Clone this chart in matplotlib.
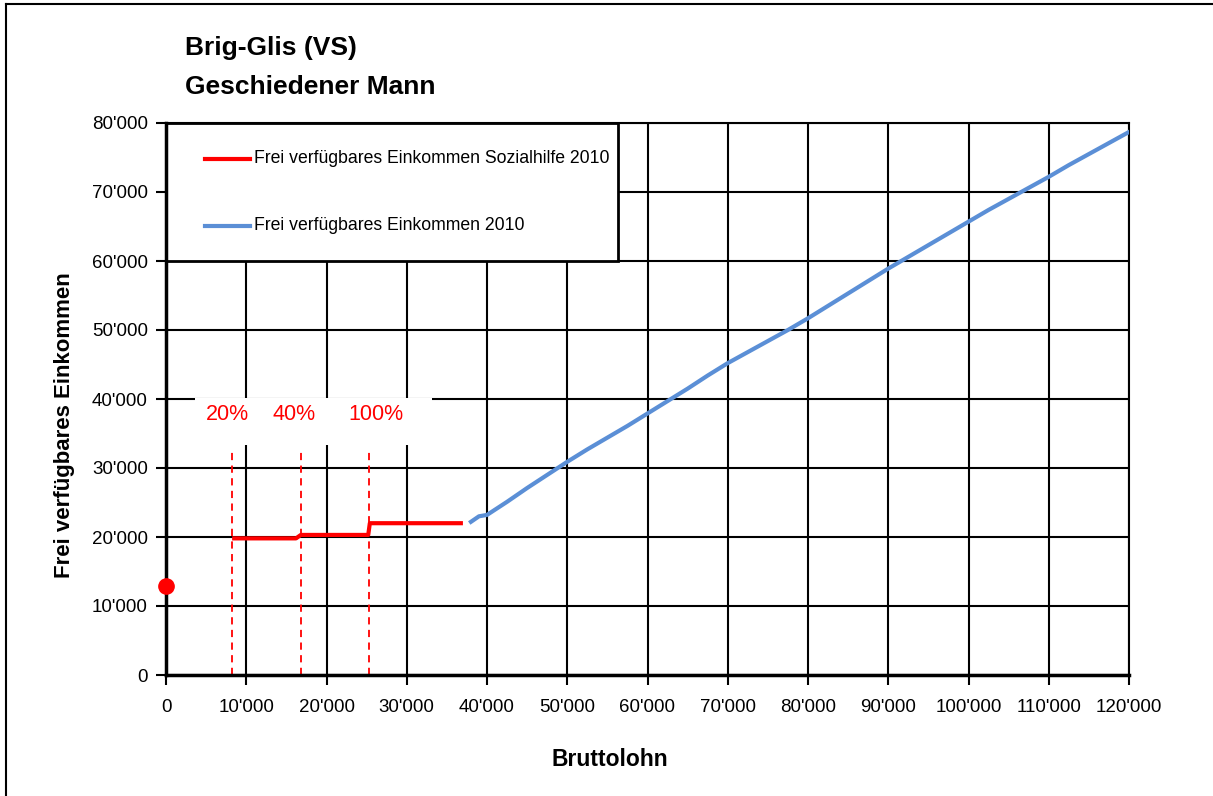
import matplotlib.pyplot as plt
from matplotlib.patches import Rectangle
from matplotlib.lines import Line2D
from matplotlib.ticker import FuncFormatter

plt.rcParams['font.family'] = ['Liberation Sans Narrow', 'Liberation Sans', 'DejaVu Sans']

# data
sozial_x = [8240, 16200, 16800, 25200, 25400, 37000]
sozial_y = [19800, 19800, 20300, 20300, 22000, 22000]

frei_x = [38000, 39000, 40000, 42500, 45000, 47500, 50000, 52500, 55000, 57500,
          60000, 62500, 65000, 67500, 70000, 72500, 75000, 77500, 80000, 82500,
          85000, 87500, 90000, 92500, 95000, 97500, 100000, 102500, 105000,
          107500, 110000, 112500, 115000, 117500, 120000]
frei_y = [22200, 23000, 23200, 25100, 27100, 29000, 30900, 32700, 34400, 36100,
          37900, 39700, 41500, 43400, 45200, 46800, 48400, 50000, 51700, 53500,
          55300, 57100, 58900, 60600, 62300, 64000, 65700, 67400, 69000,
          70600, 72200, 73900, 75500, 77100, 78700]

start_point = (0, 12900)

step_x = [8240, 16820, 25300]
step_labels = ['20%', '40%', '100%']
label_x = [7700, 16000, 26200]

x_ticks = list(range(0, 120001, 10000))
y_ticks = list(range(0, 80001, 10000))


def swiss(v, pos=None):
    v = int(round(v))
    if v == 0:
        return '0'
    return f"{v:,}".replace(',', "'")


fig = plt.figure(figsize=(12.13, 7.96), dpi=100)
ax = fig.add_axes([166 / 1213, 1 - 675 / 796, (1129 - 166) / 1213, (675 - 123) / 796])

ax.set_xlim(0, 120000)
ax.set_ylim(0, 80000)
ax.set_xticks(x_ticks)
ax.set_yticks(y_ticks)
ax.xaxis.set_major_formatter(FuncFormatter(swiss))
ax.yaxis.set_major_formatter(FuncFormatter(swiss))
ax.tick_params(axis='both', direction='out', length=7, width=1.5, labelsize=13.5, color='black')
ax.tick_params(axis='x', pad=10)
ax.tick_params(axis='y', pad=6)
ax.grid(True, color='black', linewidth=1.5)
ax.set_axisbelow(True)
for side in ['top', 'right']:
    ax.spines[side].set_linewidth(1.5)
for side in ['left', 'bottom']:
    ax.spines[side].set_linewidth(2.5)

# white box behind the percentage labels
ax.add_patch(Rectangle((3600, 33300), 29600, 6800, facecolor='white', edgecolor='none', zorder=1.5))

for xv in step_x:
    ax.plot([xv, xv], [0, 32900], color='red', linestyle=(0, (4, 3)), linewidth=1.3, zorder=2)
for xv, lab in zip(label_x, step_labels):
    ax.text(xv, 37700, lab, color='red', fontsize=15.5, ha='center', va='center',
            family=['Liberation Sans', 'DejaVu Sans'], zorder=3)

ax.plot(sozial_x, sozial_y, color='red', linewidth=3, solid_capstyle='butt', zorder=3)
ax.plot(frei_x, frei_y, color='#5b8fd6', linewidth=3, zorder=3)
ax.plot([start_point[0]], [start_point[1]], 'o', color='red', markersize=11, clip_on=False, zorder=4)

# legend box
ax.add_patch(Rectangle((0, 60000), 56300, 20000, facecolor='white', edgecolor='black',
                       linewidth=2, zorder=2.5))
leg_y = [74800, 65100]
leg_names = ['Frei verfügbares Einkommen Sozialhilfe 2010', 'Frei verfügbares Einkommen 2010']
leg_colors = ['red', '#5b8fd6']
for yv, name, c in zip(leg_y, leg_names, leg_colors):
    ax.plot([4800, 10500], [yv, yv], color=c, linewidth=3, zorder=3)
    ax.text(11000, yv, name, fontsize=12.7, va='center', ha='left', zorder=3)

# axis titles
fig.text(65 / 1213, 1 - 425 / 796, 'Frei verfügbares Einkommen', fontsize=16, fontweight='bold',
         rotation=90, ha='center', va='center')
fig.text(610 / 1213, 1 - 760 / 796, 'Bruttolohn', fontsize=16.5, fontweight='bold',
         ha='center', va='center')

fig.text(185 / 1213, 1 - 48 / 796, 'Brig-Glis (VS)', fontsize=19, fontweight='bold',
         ha='left', va='center')
fig.text(185 / 1213, 1 - 87 / 796, 'Geschiedener Mann', fontsize=19, fontweight='bold',
         ha='left', va='center')

# outer frame (top and left edges)
fig.add_artist(Line2D([6 / 1213, 1], [1 - 4 / 796, 1 - 4 / 796], transform=fig.transFigure,
                      color='black', linewidth=1.5))
fig.add_artist(Line2D([6 / 1213, 6 / 1213], [0, 1 - 4 / 796], transform=fig.transFigure,
                      color='black', linewidth=1.5))

fig.savefig('out.png', dpi=100)
